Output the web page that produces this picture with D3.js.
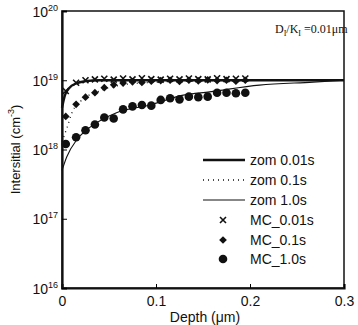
<!DOCTYPE html>
<html>
<head>
<meta charset="utf-8">
<script src="https://cdn.jsdelivr.net/npm/d3@7"></script>
<style>
  body { margin: 0; background: #fff; }
  svg { display: block; font-family: "Liberation Sans", Arial, sans-serif; }
</style>
</head>
<body>
<svg id="chart"></svg>
<script>
// simulated curves (zom)
const zom001Depth = [0, 0.003, 0.008, 0.015, 0.025, 0.04, 0.1, 0.2, 0.3]
const zom001Value = [4e18, 6e18, 7.8e18, 9e18, 9.7e18, 1e19, 1e19, 1e19, 1e19]
const zom01Depth = [0, 0.005, 0.011, 0.02, 0.04, 0.06, 0.1, 0.15, 0.2, 0.3]
const zom01Value = [1.3e18, 2e18, 3.5e18, 5e18, 7e18, 8.4e18, 9.4e18, 9.8e18, 1e19, 1e19]
const zom1Depth = [0, 0.005, 0.016, 0.03, 0.058, 0.094, 0.129, 0.157, 0.21, 0.267, 0.3]
const zom1Value = [5e17, 7.8e17, 1.4e18, 2.1e18, 3.4e18, 4.4e18, 6.1e18, 6.8e18, 8.5e18, 9.4e18, 1e19]

// Monte Carlo points
const mcDepth = [0.004, 0.015, 0.025, 0.035, 0.045, 0.055, 0.065, 0.075, 0.085, 0.095,
  0.105, 0.115, 0.125, 0.135, 0.145, 0.155, 0.165, 0.175, 0.185, 0.195]
const mc001 = [7e18, 9.2e18, 1.0e19, 1.03e19, 1.05e19, 1.02e19, 1.06e19, 1.03e19, 1.07e19, 1.04e19,
  1.02e19, 1.05e19, 1.03e19, 1.06e19, 1.04e19, 1.03e19, 1.07e19, 1.04e19, 1.05e19, 1.06e19]
const mc01 = [3e18, 4.5e18, 5.7e18, 6.6e18, 7.8e18, 8.6e18, 9.1e18, 9.5e18, 9.3e18, 9.7e18,
  9.9e18, 1.0e19, 9.6e18, 1.0e19, 9.8e18, 1.01e19, 9.9e18, 1.0e19, 9.7e18, 1.0e19]
const mc1 = [1.2e18, 1.5e18, 1.9e18, 2.3e18, 2.9e18, 2.8e18, 3.8e18, 4.2e18, 4.4e18, 4.3e18,
  5.2e18, 5.5e18, 5.3e18, 5.8e18, 5.7e18, 5.8e18, 6.6e18, 6.6e18, 6.5e18, 6.6e18]

const xTicks = [0, 0.1, 0.2, 0.3]
const xTickLabels = ['0', '0.1', '0.2', '0.3']
const yTicks = [1e16, 1e17, 1e18, 1e19, 1e20]
const yTickExp = ['16', '17', '18', '19', '20']
const legendLabels = ['zom 0.01s', 'zom 0.1s', 'zom 1.0s', 'MC_0.01s', 'MC_0.1s', 'MC_1.0s']

const width = 358
const height = 325
const margin = { top: 11, right: 14, bottom: 37, left: 62 }

const svg = d3.select('#chart')
  .attr('width', width)
  .attr('height', height)

const x = d3.scaleLinear().domain([0, 0.3]).range([margin.left, width - margin.right])
const y = d3.scaleLog().domain([1e16, 1e20]).range([height - margin.bottom, margin.top])

// frame
svg.append('rect')
  .attr('x', x(0)).attr('y', y(1e20))
  .attr('width', x(0.3) - x(0)).attr('height', y(1e16) - y(1e20))
  .attr('fill', 'none').attr('stroke', '#111').attr('stroke-width', 1.5)

// axes
const xAxis = svg.append('g')
  .attr('transform', `translate(0,${y(1e16)})`)
  .call(d3.axisBottom(x).tickValues(xTicks).tickSize(-4).tickFormat((d, i) => xTickLabels[i]))
xAxis.select('.domain').attr('stroke', '#111').attr('stroke-width', 2.2)
xAxis.selectAll('text').attr('font-size', 14).attr('fill', '#111').attr('dy', '1.1em')

const yAxis = svg.append('g')
  .attr('transform', `translate(${x(0)},0)`)
  .call(d3.axisLeft(y).tickValues(yTicks).tickSize(-5).tickFormat(''))
yAxis.select('.domain').attr('stroke', '#111').attr('stroke-width', 2.2)

const yLab = yAxis.selectAll('.tick').append('text')
  .attr('x', -4).attr('y', 5)
  .attr('text-anchor', 'end')
  .attr('fill', '#111')
yLab.append('tspan').attr('font-size', 14).text('10')
yLab.append('tspan').attr('font-size', 9).attr('dy', -6).text((d, i) => yTickExp[i])

// axis titles
svg.append('text')
  .attr('x', (x(0) + x(0.3)) / 2 + 2).attr('y', 322)
  .attr('text-anchor', 'middle').attr('font-size', 14).attr('fill', '#111')
  .text('Depth (μm)')

const yTitle = svg.append('text')
  .attr('transform', `translate(20,${(y(1e16) + y(1e20)) / 2}) rotate(-90)`)
  .attr('text-anchor', 'middle').attr('font-size', 13).attr('fill', '#111')
yTitle.append('tspan').text('Intersitial (cm')
yTitle.append('tspan').attr('font-size', 9).attr('dy', -6).text('-3')
yTitle.append('tspan').attr('dy', 6).text(')')

// annotation
const ann = svg.append('text')
  .attr('x', 275).attr('y', 33)
  .attr('font-family', '"Liberation Serif", "Times New Roman", serif')
  .attr('font-size', 12).attr('fill', '#111')
ann.append('tspan').text('D')
ann.append('tspan').attr('font-size', 8).attr('dy', 3).text('I')
ann.append('tspan').attr('dy', -3).text('/K')
ann.append('tspan').attr('font-size', 8).attr('dy', 3).text('I')
ann.append('tspan').attr('dy', -3).text(' =0.01μm')

// curves
const line = d3.line()
  .x(d => x(d[0]))
  .y(d => y(d[1]))
  .curve(d3.curveMonotoneX)

const curves = [
  { depth: zom001Depth, value: zom001Value, width: 2.4, dash: null },
  { depth: zom01Depth, value: zom01Value, width: 1.3, dash: '1,4' },
  { depth: zom1Depth, value: zom1Value, width: 1.1, dash: null }
]

svg.selectAll('.curve')
  .data(curves)
  .enter()
  .append('path')
  .attr('class', 'curve')
  .attr('d', c => line(d3.zip(c.depth, c.value)))
  .attr('fill', 'none')
  .attr('stroke', '#111')
  .attr('stroke-width', c => c.width)
  .attr('stroke-dasharray', c => c.dash)

// markers
function cross(g, px, py, s) {
  g.append('path')
    .attr('d', `M${px - s},${py - s}L${px + s},${py + s}M${px - s},${py + s}L${px + s},${py - s}`)
    .attr('stroke', '#111').attr('stroke-width', 1.6).attr('fill', 'none')
}
// diamond = square turned by 45 degrees
const diamond = d3.symbol().type(d3.symbolSquare).size(30)

const marks = svg.append('g')
mcDepth.forEach((d, i) => cross(marks, x(d), y(mc001[i]), 3))

marks.selectAll('.dia')
  .data(d3.zip(mcDepth, mc01))
  .enter()
  .append('path')
  .attr('class', 'dia')
  .attr('transform', d => `translate(${x(d[0])},${y(d[1])}) rotate(45)`)
  .attr('d', diamond)
  .attr('fill', '#111')

marks.selectAll('.dot')
  .data(d3.zip(mcDepth, mc1))
  .enter()
  .append('circle')
  .attr('class', 'dot')
  .attr('cx', d => x(d[0]))
  .attr('cy', d => y(d[1]))
  .attr('r', 4.3)
  .attr('fill', '#111')

// legend
const legend = svg.append('g')
const legY = [160, 180, 200, 220, 240, 259]
legendLabels.forEach((label, i) => {
  const ly = legY[i]
  if (i < 3) {
    legend.append('line')
      .attr('x1', 203).attr('x2', 245).attr('y1', ly).attr('y2', ly)
      .attr('stroke', '#111')
      .attr('stroke-width', curves[i].width)
      .attr('stroke-dasharray', curves[i].dash)
  }
  else if (i === 3) {
    cross(legend, 223, ly, 3)
  }
  else if (i === 4) {
    legend.append('path').attr('transform', `translate(223,${ly}) rotate(45)`).attr('d', diamond).attr('fill', '#111')
  }
  else {
    legend.append('circle').attr('cx', 223).attr('cy', ly).attr('r', 4.3).attr('fill', '#111')
  }
  legend.append('text')
    .attr('x', 250).attr('y', ly + 5)
    .attr('font-size', 14).attr('fill', '#111')
    .text(label)
})
</script>
</body>
</html>
